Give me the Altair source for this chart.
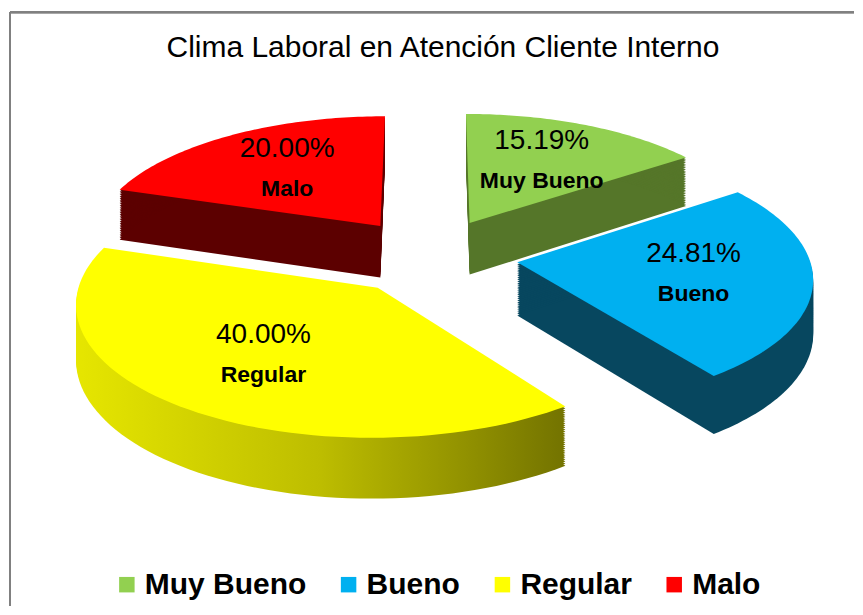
import altair as alt
import pandas as pd

# ---- data ----
categorias = ["Muy Bueno", "Bueno", "Regular", "Malo"]
porcentajes = [15.19, 24.81, 40.00, 20.00]

# ---- styles ----
colores_cara = ["#92D050", "#00B0F0", "#FFFF00", "#FF0000"]
colores_lado = ["#557629", "#07475F", "#A8A800", "#5C0000"]
FONT = "Liberation Sans"

datos = pd.DataFrame({
    "categoria": categorias,
    "porcentaje": porcentajes,
    "orden": list(range(len(categorias))),
})

# geometry of the pseudo-3D exploded pie (in scale units)
W, H = 845, 594
N_ARC = 72      # points per arc
N_CAPAS = 28    # depth layers
EXPL = 0.3      # explode distance (fraction of radius)
PERSP = 0.105   # perspective strength
PROF = 0.416    # depth of the pie
X_DOM = [-1.4418, 1.4521]
Y_DOM = [-2.7494, 1.9167]

xs = lambda f: alt.X(f, type="quantitative", scale=alt.Scale(domain=X_DOM, nice=False, zero=False), axis=None)
ys = lambda f: alt.Y(f, type="quantitative", scale=alt.Scale(domain=Y_DOM, nice=False, zero=False), axis=None)

base = (
    alt.Chart(datos)
    .transform_joinaggregate(total="sum(porcentaje)")
    .transform_window(acum="sum(porcentaje)", sort=[alt.SortField("orden", order="ascending")], frame=[None, 0])
    .transform_calculate(
        t1="2*PI*datum.acum/datum.total",
        t0="2*PI*(datum.acum - datum.porcentaje)/datum.total",
    )
    .transform_calculate(medio="(datum.t0 + datum.t1)/2")
    .transform_calculate(
        ex=f"{EXPL}*sin(datum.medio)",
        ez=f"{EXPL}*cos(datum.medio)",
    )
)

poligono = (
    base.transform_calculate(k=f"sequence(0, {N_ARC + 2})")
    .transform_flatten(["k"])
    .transform_calculate(
        r="datum.k == 0 ? 0 : 1",
        th=f"datum.t0 + (datum.t1 - datum.t0) * max(datum.k - 1, 0) / {N_ARC}",
    )
    .transform_calculate(
        X="datum.ex + datum.r*sin(datum.th)",
        Z="datum.ez + datum.r*cos(datum.th)",
    )
    .transform_calculate(p=f"1/(1 + {PERSP}*datum.Z)")
    .transform_calculate(sx="datum.X*datum.p", sy="datum.Z*datum.p")
)

capas_lado = []
for cat, col in zip(categorias, colores_lado):
    relleno = col
    if cat == "Regular":
        relleno = alt.Gradient(
            gradient="linear", x1=0, x2=1, y1=0, y2=0,
            stops=[alt.GradientStop(color="#E6E600", offset=0),
                   alt.GradientStop(color="#BDBD00", offset=0.5),
                   alt.GradientStop(color="#737300", offset=1)],
        )
    capa = (
        poligono.transform_filter(alt.datum.categoria == cat)
        .transform_calculate(nivel=f"sequence(1, {N_CAPAS + 1})")
        .transform_flatten(["nivel"])
        .transform_calculate(syd=f"datum.sy - {PROF}*datum.nivel/{N_CAPAS}*datum.p")
        .mark_line(filled=True, fill=relleno, strokeWidth=0)
        .encode(x=xs("sx"), y=ys("syd"), order=alt.Order("k:Q"), detail="nivel:N")
    )
    capas_lado.append(capa)

caras = poligono.mark_line(filled=True, strokeWidth=0).encode(
    x=xs("sx"), y=ys("sy"), order=alt.Order("k:Q"), detail="categoria:N",
    color=alt.Color(
        "categoria:N",
        scale=alt.Scale(domain=categorias, range=colores_cara),
        sort=categorias,
        legend=alt.Legend(
            title=None, orient="none", legendX=102, legendY=558, direction="horizontal",
            symbolType="square", symbolSize=240, symbolStrokeWidth=0,
            labelFont=FONT, labelFontSize=30, labelFontWeight="bold", labelColor="black",
            labelLimit=400, columnPadding=27, labelOffset=3, padding=0,
        ),
    ),
)

etiquetas = (
    base.transform_calculate(
        X="datum.ex + 0.6*sin(datum.medio)",
        Z="datum.ez + 0.6*cos(datum.medio)",
    )
    .transform_calculate(p=f"1/(1 + {PERSP}*datum.Z)")
    .transform_calculate(
        sx="datum.X*datum.p", sy="datum.Z*datum.p",
        texto_pct="format(datum.porcentaje/100, '.2%')",
    )
)
pct = etiquetas.mark_text(font=FONT, fontSize=28, dy=-21, color="black").encode(
    x=xs("sx"), y=ys("sy"), text="texto_pct:N")
nom = etiquetas.mark_text(font=FONT, fontSize=23, fontWeight="bold", dy=19, color="black").encode(
    x=xs("sx"), y=ys("sy"), text="categoria:N")

borde_sup = alt.Chart(datos).mark_rule(color="#808080", strokeWidth=2).encode(
    x=alt.value(0), x2=alt.value(W), y=alt.value(0))
borde_izq = alt.Chart(datos).mark_rule(color="#808080", strokeWidth=2).encode(
    x=alt.value(0), y=alt.value(0), y2=alt.value(H))

chart = (
    alt.layer(borde_sup, borde_izq, *capas_lado, caras, pct, nom)
    .properties(
        width=W, height=H,
        padding={"left": 1, "top": 3, "right": 0, "bottom": 0},
        title=alt.TitleParams(
            "Clima Laboral en Atención Cliente Interno",
            font=FONT, fontSize=30, fontWeight="normal", color="black",
            anchor="middle", frame="group", offset=-52, dx=11,
        ),
    )
    .configure_view(stroke=None)
)

chart.save("out.html", embed_options={"renderer": "svg", "actions": False})
